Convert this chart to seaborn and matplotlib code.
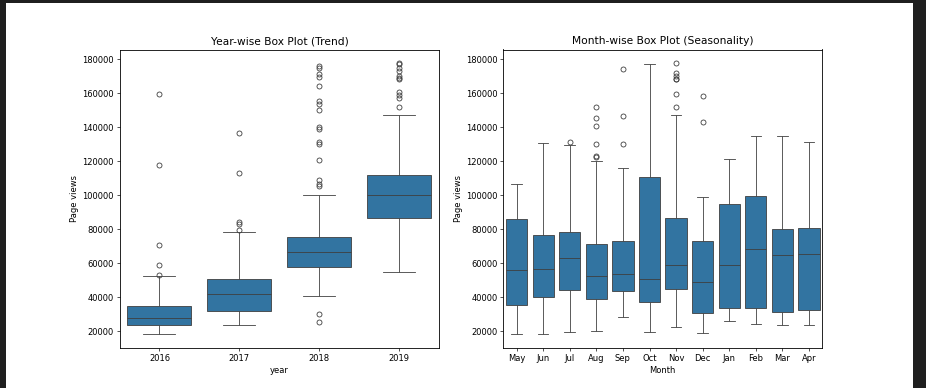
import matplotlib
matplotlib.use("Agg")
import matplotlib.pyplot as plt
import seaborn as sns
import pandas as pd
from matplotlib.patches import Rectangle

# ---- Year-wise summary values ----
years = ["2016", "2017", "2018", "2019"]
year_lo = [18000, 23300, 40600, 54700]
year_q1 = [23500, 31900, 57500, 86700]
year_med = [27650, 41750, 66450, 100000]
year_q3 = [35000, 50600, 75500, 111800]
year_hi = [52200, 78500, 100000, 147000]
year_outliers = [
    [53000, 58600, 70800, 117800, 159400],
    [79700, 83100, 84100, 113100, 136600],
    [25500, 29800, 105660, 106450, 108800, 120760, 130370, 131350, 139000,
     140370, 150200, 153900, 155280, 164100, 169400, 171160, 174700, 176250],
    [151760, 157060, 158820, 160760, 168590, 169180, 170180, 172940, 174700,
     177060, 177800],
]

# ---- Month-wise summary values ----
months = ["May", "Jun", "Jul", "Aug", "Sep", "Oct", "Nov", "Dec", "Jan", "Feb", "Mar", "Apr"]
month_lo = [18020, 18020, 19400, 20180, 28220, 19400, 22530, 19000, 25860, 24100, 23510, 23310]
month_q1 = [35280, 39980, 44000, 38700, 43510, 37240, 44690, 30760, 33710, 33710, 31160, 32340]
month_med = [55860, 56650, 62920, 52340, 53510, 50570, 58610, 48810, 58800, 68410, 64690, 65280]
month_q3 = [85660, 76450, 78500, 71300, 72920, 110570, 86250, 72920, 94690, 99390, 79780, 80570]
month_hi = [106450, 130570, 129700, 119900, 116060, 177040, 147040, 98810, 121160, 134690, 134690, 131350]
month_outliers = [
    [], [], [131500],
    [122300, 122900, 130000, 140570, 145670, 151750],
    [130000, 146840, 174290],
    [],
    [151750, 159400, 168200, 168600, 170000, 171600, 177700],
    [143120, 158610],
    [], [], [], [],
]

K = 40  # repetition so the quartiles equal the read values


def build(groups, lo, q1, med, q3, hi, outl, gname):
    rows = []
    for i, g in enumerate(groups):
        vals = [lo[i]] + [q1[i]] * K + [med[i]] * K + [q3[i]] * K + [hi[i]] + list(outl[i])
        rows += [(g, v) for v in vals]
    return pd.DataFrame(rows, columns=[gname, "Page views"])


df_year = build(years, year_lo, year_q1, year_med, year_q3, year_hi, year_outliers, "year")
df_month = build(months, month_lo, month_q1, month_med, month_q3, month_hi, month_outliers, "Month")

DPI = 60
fig = plt.figure(figsize=(926 / DPI, 388 / DPI), dpi=DPI)
fig.patch.set_facecolor("#1f1f1f")
fig.patches.append(Rectangle((6 / 926, 0), (913 - 6) / 926, (388 - 3) / 388,
                             transform=fig.transFigure, facecolor="white",
                             edgecolor="none", zorder=-10))

ax1 = fig.add_axes([119.5 / 926, 40 / 388, 319.8 / 926, 298.5 / 388])
ax2 = fig.add_axes([503.3 / 926, 40 / 388, 319.0 / 926, 298.5 / 388])

sns.boxplot(data=df_year, x="year", y="Page views", order=years, ax=ax1)
ax1.set_title("Year-wise Box Plot (Trend)", fontsize=12.7)

sns.boxplot(data=df_month, x="Month", y="Page views", order=months, ax=ax2)
ax2.set_title("Month-wise Box Plot (Seasonality)", fontsize=12.7)

for ax in (ax1, ax2):
    for sp in ax.spines.values():
        sp.set_linewidth(1.0)

fig.savefig("out.png", dpi=DPI, facecolor=fig.get_facecolor())
